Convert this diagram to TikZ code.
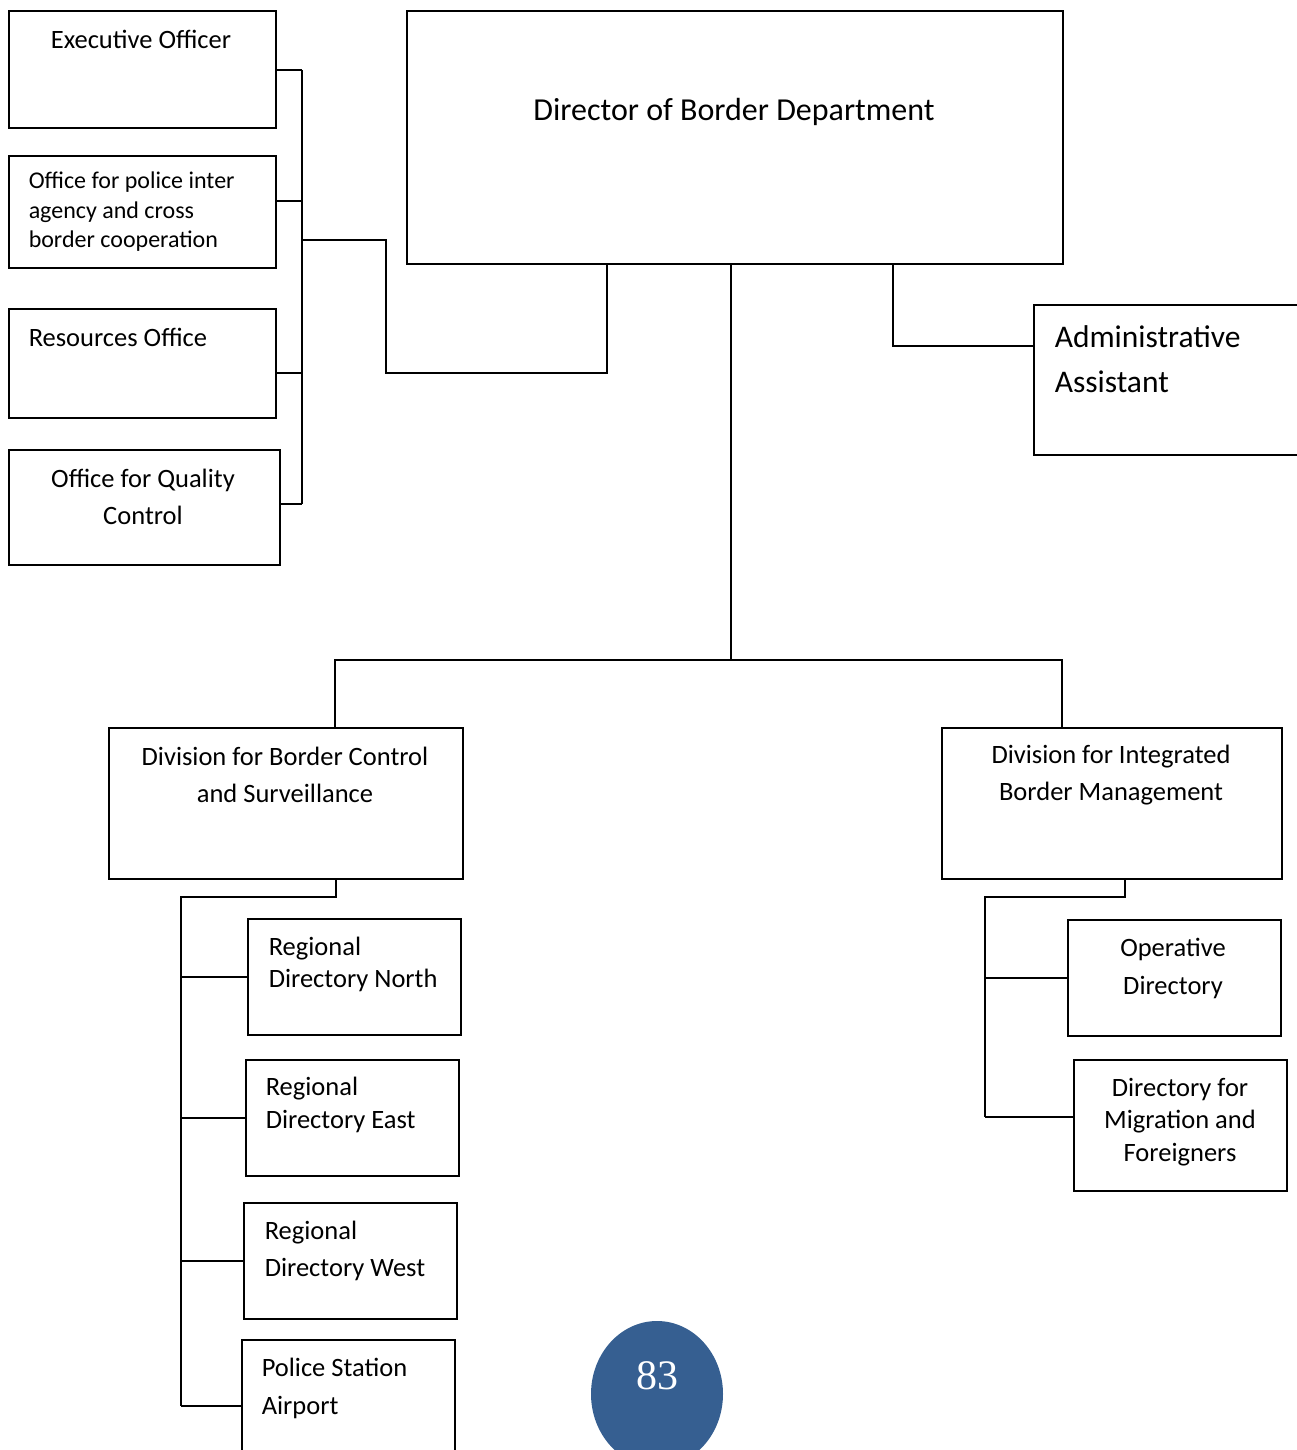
\documentclass[tikz,border=0pt]{standalone}
\usepackage{fontspec}
\setmainfont{Carlito}
\newfontfamily\numfont{Liberation Serif}
\usetikzlibrary{positioning,shapes.geometric}
\definecolor{pageblue}{RGB}{54,95,145}

\begin{document}
\begin{tikzpicture}
[x=1pt,y=-1pt,line width=1.5pt,
box/.style={draw, line width=1.6pt, anchor=north west, inner sep=0pt},
txt/.style={inner sep=0pt, align=center, font=\fontsize{26.5}{32}\selectfont},
ltxt/.style={txt, align=left, anchor=west},
pagenum/.style={ellipse, fill=pageblue, text=white, minimum width=132pt, minimum height=146pt,
  text depth=36pt, font=\numfont\fontsize{42}{42}\selectfont}]
\useasboundingbox (0,0) rectangle (1297,1450);

% head of department
\node[box, minimum width=656pt, minimum height=253pt] (dir) at (406,10) {};
\node[txt, font=\fontsize{32}{38}\selectfont] (dirT) at (734,112) {Director of Border Department};

\node[box, minimum width=300pt, minimum height=150pt] (adm) at (1033,304) {};
\node[ltxt, font=\fontsize{31.5}{45}\selectfont] (admT) at (1054,359) {Administrative\\Assistant};

% staff offices
\node[box, minimum width=267pt, minimum height=117pt] (exec) at (8,10) {};
\node[txt] (execT) at (141,39) {Executive Officer};

\node[box, minimum width=267pt, minimum height=112pt] (pol) at (8,155) {};
\node[ltxt, font=\fontsize{24}{29.5}\selectfont] (polT) at (28,212) {Office for police inter\\agency and cross\\border cooperation};

\node[box, minimum width=267pt, minimum height=109pt] (res) at (8,308) {};
\node[ltxt] (resT) at (28,337) {Resources Office};

\node[box, minimum width=271pt, minimum height=115pt] (qual) at (8,449) {};
\node[txt, font=\fontsize{26.5}{37}\selectfont] (qualT) at (143,497) {Office for Quality\\Control};

% divisions
\node[box, minimum width=354pt, minimum height=151pt] (bcs) at (108,727) {};
\node[txt, font=\fontsize{26.5}{37}\selectfont] (bcsT) at (285,775) {Division for Border Control\\and Surveillance};

\node[box, minimum width=340pt, minimum height=151pt] (ibm) at (941,727) {};
\node[txt, font=\fontsize{26.5}{37}\selectfont] (ibmT) at (1111,775) {Division for Integrated\\Border Management};

% regional directories
\node[box, minimum width=213pt, minimum height=116pt] (north) at (247,918) {};
\node[ltxt, font=\fontsize{26.5}{32}\selectfont] (northT) at (268,964) {Regional\\Directory North};

\node[box, minimum width=213pt, minimum height=116pt, below=23.4pt of north, xshift=-2pt] (east) {};
\node[ltxt, font=\fontsize{26.5}{33}\selectfont] (eastT) at (265,1105) {Regional\\Directory East};

\node[box, minimum width=213pt, minimum height=116pt, below=25.4pt of east, xshift=-2pt] (west) {};
\node[ltxt, font=\fontsize{26.5}{37}\selectfont] (westT) at (264,1251) {Regional\\Directory West};

\node[box, minimum width=213pt, minimum height=134pt, below=19.4pt of west, xshift=-2pt] (air) {};
\node[ltxt, font=\fontsize{26.5}{38}\selectfont] (airT) at (261,1388) {Police Station\\Airport};

\node[box, minimum width=213pt, minimum height=116pt] (oper) at (1067,919) {};
\node[txt, font=\fontsize{26.5}{38}\selectfont] (operT) at (1173,968) {Operative\\Directory};

\node[box, minimum width=213pt, minimum height=131pt] (mig) at (1073,1059) {};
\node[txt, font=\fontsize{26.5}{32.5}\selectfont] (migT) at (1180,1122) {Directory for\\Migration and\\Foreigners};

\node[pagenum] (pg) at (657,1394) {83};

% staff bus
\coordinate (busN) at (302,70);
\coordinate (busS) at (302,504);
\coordinate (busM) at (302,240);
\coordinate (bend) at (386,373);
\draw (busN) -- (busS);
\draw (exec.east |- busN) -- (busN);
\draw ([yshift=11pt]pol.east) -- ([yshift=11pt]pol.east -| busN);
\draw (res.east |- bend) -- (busN |- bend);
\draw (qual.east |- busS) -- (busS);
\draw (busM) -| (bend) -| (dir.south -| 607,0);

% admin line
\coordinate (admtap) at (893,346);
\draw (dir.south -| admtap) |- (adm.west |- admtap);

% main trunk
\coordinate (split) at (731,660);
\coordinate (ldrop) at (335,660);
\coordinate (rdrop) at (1062,660);
\draw (dir.south -| split) -- (split);
\draw (bcs.north -| ldrop) |- (rdrop) -- (ibm.north -| rdrop);

% left division branch
\coordinate (lbusT) at (181,897);
\coordinate (lbusB) at (181,1406);
\draw (bcs.south -| 336,0) |- (lbusT) -- (lbusB);
\draw (north.west -| lbusT) -- (north.west);
\draw (east.west -| lbusT) -- (east.west);
\draw (west.west -| lbusT) -- (west.west);
\draw (lbusB) -- (air.west |- lbusB);

% right division branch
\coordinate (rbusT) at (985,897);
\coordinate (rbusB) at (985,1117);
\draw (ibm.south -| 1125,0) |- (rbusT) -- (rbusB);
\draw (oper.west -| rbusT) -- (oper.west);
\draw (rbusB) -- (mig.west |- rbusB);
\end{tikzpicture}
\end{document}
